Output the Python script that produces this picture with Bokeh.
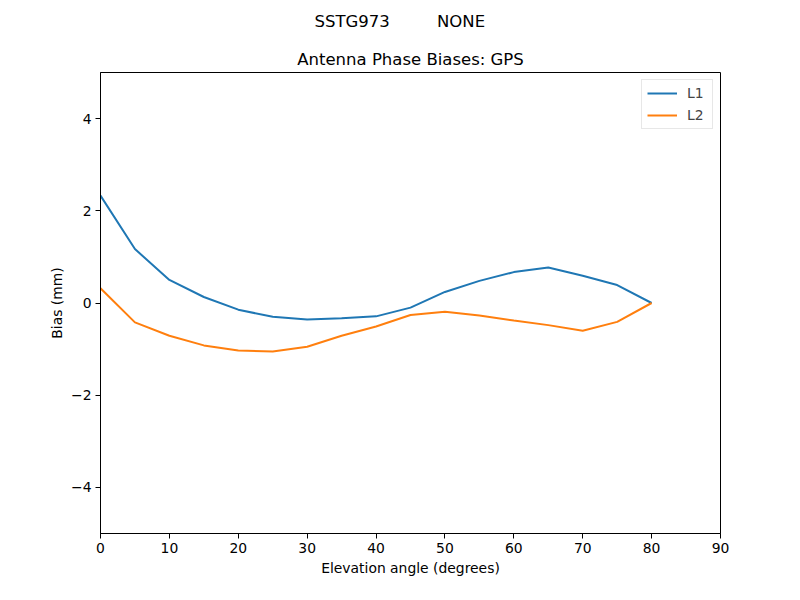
from bokeh.plotting import figure
from bokeh.models import Title, Range1d, Legend, LegendItem, FixedTicker
from bokeh.embed import file_html
from bokeh.resources import INLINE

elev = [0, 5, 10, 15, 20, 25, 30, 35, 40, 45, 50, 55, 60, 65, 70, 75, 80]
l1 = [2.33, 1.17, 0.50, 0.13, -0.145, -0.30, -0.36, -0.33, -0.29, -0.10, 0.24, 0.48, 0.67, 0.77, 0.59, 0.39, 0.0]
l2 = [0.32, -0.42, -0.71, -0.92, -1.03, -1.05, -0.95, -0.71, -0.51, -0.26, -0.19, -0.27, -0.38, -0.48, -0.60, -0.41, 0.0]
x_ticks = [0, 10, 20, 30, 40, 50, 60, 70, 80, 90]
y_ticks = [-4, -2, 0, 2, 4]
suptitle = "SSTG973\u00a0\u00a0\u00a0\u00a0\u00a0\u00a0\u00a0\u00a0\u00a0NONE"
title = "Antenna Phase Biases: GPS"

FONT = "DejaVu Sans"
p = figure(width=784, height=584, output_backend="svg", toolbar_location=None,
           x_range=Range1d(0, 90), y_range=Range1d(-5, 5),
           min_border_left=100, min_border_right=64, min_border_top=72, min_border_bottom=51)

p.title = Title(text=suptitle, align="left", text_font=FONT, text_font_size="16.5px",
                text_font_style="normal", text_color="black", standoff=22, offset=214,
                text_line_height=0.7, vertical_align="top")
p.add_layout(Title(text=title, align="center", text_font=FONT, text_font_size="16.5px",
                   text_font_style="normal", text_color="black", standoff=8), "above")

r1 = p.line(elev, l1, line_color="#1f77b4", line_width=2)
r2 = p.line(elev, l2, line_color="#ff7f0e", line_width=2)

legend = Legend(items=[LegendItem(label="L1", renderers=[r1]), LegendItem(label="L2", renderers=[r2])],
                location="top_right", label_text_font=FONT, label_text_font_size="13.9px",
                border_line_color="#d0d0d0", border_line_width=1, background_fill_alpha=0.8,
                glyph_width=30, glyph_height=14, label_height=14, spacing=6, padding=5,
                margin=7, label_standoff=10)
p.add_layout(legend)

p.grid.visible = False
p.outline_line_color = "black"
p.outline_line_width = 1

for ax in (p.xaxis[0], p.yaxis[0]):
    ax.axis_line_color = "black"
    ax.major_tick_line_color = "black"
    ax.major_tick_out = 5
    ax.major_tick_in = 0
    ax.minor_tick_line_color = None
    ax.major_label_text_font = FONT
    ax.major_label_text_font_size = "13.9px"
    ax.major_label_text_color = "black"
    ax.axis_label_text_font = FONT
    ax.axis_label_text_font_size = "13.9px"
    ax.axis_label_text_font_style = "normal"
    ax.axis_label_text_color = "black"

p.xaxis.ticker = FixedTicker(ticks=x_ticks)
p.yaxis.ticker = FixedTicker(ticks=y_ticks)
p.yaxis.major_label_overrides = {t: (str(t).replace("-", "\u2212")) for t in y_ticks}
p.xaxis.axis_label = "Elevation angle (degrees)"
p.yaxis.axis_label = "Bias (mm)"
p.yaxis.major_label_orientation = "horizontal"
p.xaxis.major_label_standoff = 4
p.yaxis.major_label_standoff = 4
p.xaxis.axis_label_standoff = 4
p.yaxis.axis_label_standoff = 3

open("out.html", "w").write(file_html(p, INLINE))
